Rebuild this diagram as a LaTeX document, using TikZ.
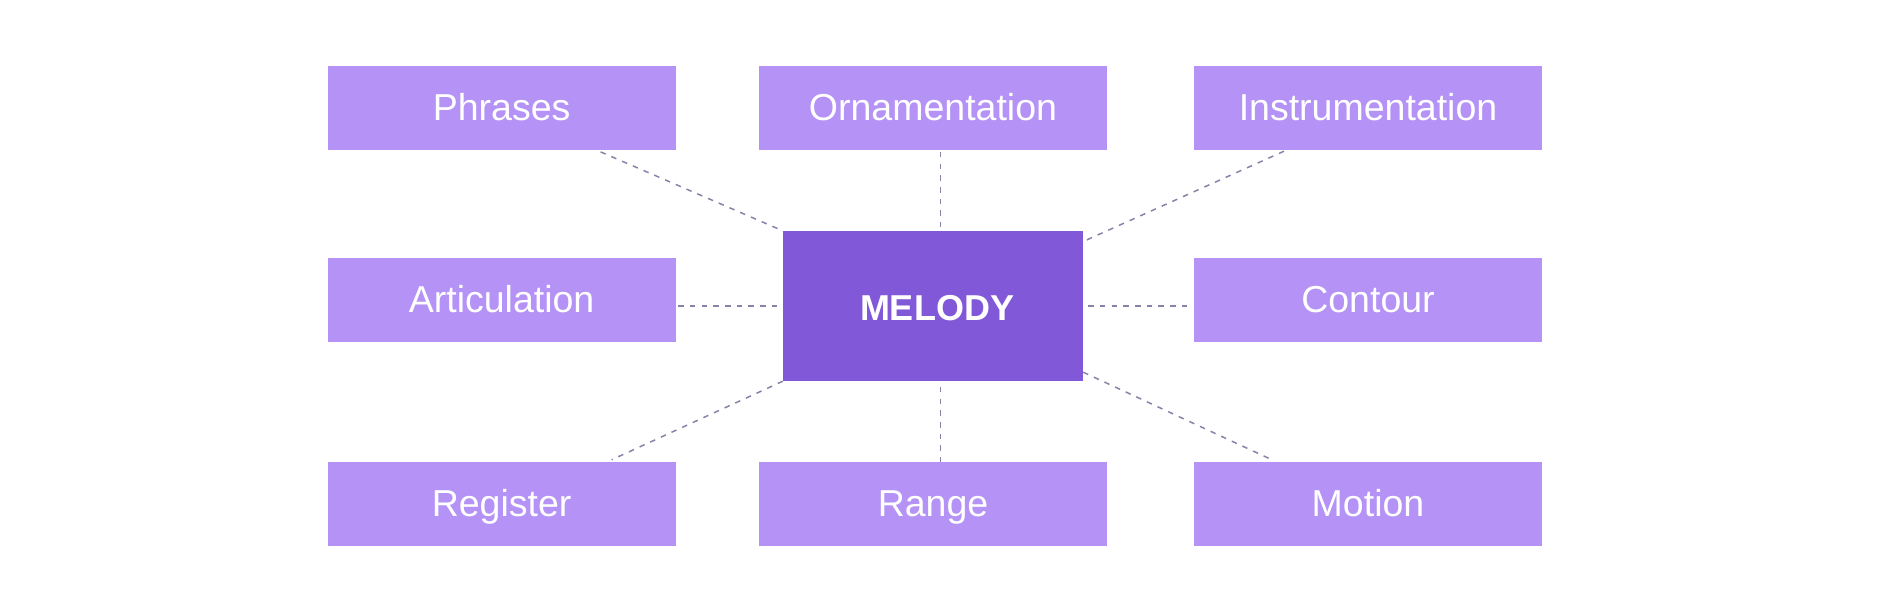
\documentclass[tikz,border=0pt]{standalone}
\usepackage{fontspec}
\setmainfont{Liberation Sans}
\definecolor{leaf}{HTML}{B592F5}
\definecolor{core}{HTML}{8058D8}
\definecolor{link}{HTML}{8882A8}
\tikzset{
  leafbox/.style={fill=leaf, draw=none, minimum width=348pt, minimum height=84pt, inner sep=0pt,
    text=white, font=\fontsize{37.5}{40}\selectfont, text height=25pt, text depth=0pt},
  corebox/.style={fill=core, draw=none, minimum width=300pt, minimum height=150pt, inner sep=0pt,
    text=white, font=\fontsize{36}{40}\selectfont\bfseries, text height=29pt, text depth=0pt},
  linkline/.style={draw=link, line width=1.5pt, dash pattern=on 5.5pt off 6.2pt}
}
\begin{document}
\begin{tikzpicture}[x=1pt,y=-1pt]
\useasboundingbox (0,0) rectangle (1881,600);
\node[corebox] (melody) at (933,306) {\hspace*{8pt}MELODY};
\node[leafbox] (phrases) at (501.6,108) {Phrases};
\node[leafbox] (orn) at (933,108) {Ornamentation};
\node[leafbox] (instr) at (1368,108) {Instrumentation};
\node[leafbox] (artic) at (501.6,300) {Articulation};
\node[leafbox] (contour) at (1368,300) {Contour};
\node[leafbox] (register) at (501.6,504) {Register};
\node[leafbox] (range) at (933,504) {Range};
\node[leafbox] (motion) at (1368,504) {Motion};
% connectors
\draw[linkline] ([xshift=99pt,yshift=-1.7pt]phrases.south) -- (melody.north west);
\draw[linkline] ([xshift=7.5pt,yshift=-1.7pt]orn.south) -- ([xshift=7.5pt,yshift=4pt]melody.north);
\draw[linkline] ([xshift=-84pt,yshift=-1pt]instr.south) -- ([yshift=-10.7pt]melody.north east);
\draw[linkline] ([xshift=2.4pt]melody.west -| artic.east) -- ([xshift=-5pt]melody.west);
\draw[linkline] ([xshift=5pt]melody.east) -- ([xshift=-2pt]melody.east -| contour.west);
\draw[linkline] (melody.south west) -- ([xshift=110pt,yshift=2pt]register.north);
\draw[linkline] ([xshift=7.5pt,yshift=-5.7pt]melody.south) -- ([xshift=7.5pt]range.north);
\draw[linkline] ([yshift=9pt]melody.south east) -- ([xshift=-96pt,yshift=2pt]motion.north);
\end{tikzpicture}
\end{document}
